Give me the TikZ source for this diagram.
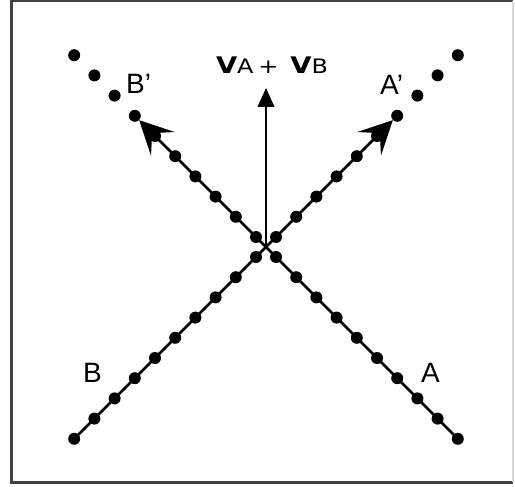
\documentclass[tikz,border=0pt]{standalone}
\usepackage{fontspec}
\setmainfont{Liberation Sans}
\newfontfamily\labelfont{DejaVu Sans}
\usetikzlibrary{arrows.meta,calc}
\definecolor{framegray}{RGB}{64,64,64}
\definecolor{edgegray}{RGB}{215,215,215}

\begin{document}
\begin{tikzpicture}[
    x=0.03cm, y=-0.03cm,
    dot/.style    = {circle, fill=black, inner sep=0pt, minimum size=0.36cm},
    track/.style  = {line width=0.075cm, draw=black},
    trackarr/.style = {track, -{Stealth[length=1.0cm, width=1.0cm, inset=0.45cm]}},
    sumarr/.style = {line width=0.05cm, -{Triangle[length=0.57cm, width=0.5cm]}},
    lbl/.style    = {inner sep=0pt, anchor=base west, font=\fontsize{23.9}{28}\selectfont}
  ]
    \useasboundingbox (0,0) rectangle (515,486);
    % frame
    \draw[framegray, line width=0.09cm] (513,1) -- (11.5,1) -- (11.5,482) -- (513,482);
    \draw[edgegray, line width=0.04cm] (513,1) -- (513,482);

    \coordinate (o) at (266,247);
    \coordinate (sum) at (266,88);

    % dots along the four branches
    \foreach \k [evaluate=\k as \d using 10+20.2*\k] in {0,...,9} {
      \node[dot] (b\k)  at ($(o)+(-\d, \d)$) {};
      \node[dot] (a\k)  at ($(o)+( \d, \d)$) {};
      \node[dot] (ap\k) at ($(o)+( \d,-\d)$) {};
      \node[dot] (bp\k) at ($(o)+(-\d,-\d)$) {};
    }

    \draw[trackarr] (b9.center) -- (ap6);
    \draw[trackarr] (a9.center) -- (bp6);
    \draw[sumarr] (o) -- (sum);

    \node[lbl] (lb)  at (83,382)  {B};
    \node[lbl] (la)  at (421,382) {A};
    \node[lbl] (lbp) at (126,94)  {B'};
    \node[lbl] (lap) at (380,95)  {A'};
    \node[inner sep=0pt, anchor=base] (lsum) at (272,74)
      {\labelfont\scalebox{1.2}[1]{\fontsize{19.5}{22}\selectfont\bfseries V%
       \fontsize{17}{20}\mdseries A\hspace{0.12cm}+\hspace{0.3cm}%
       \fontsize{19.5}{22}\selectfont\bfseries V\fontsize{17}{20}\selectfont\mdseries B}};
\end{tikzpicture}
\end{document}
